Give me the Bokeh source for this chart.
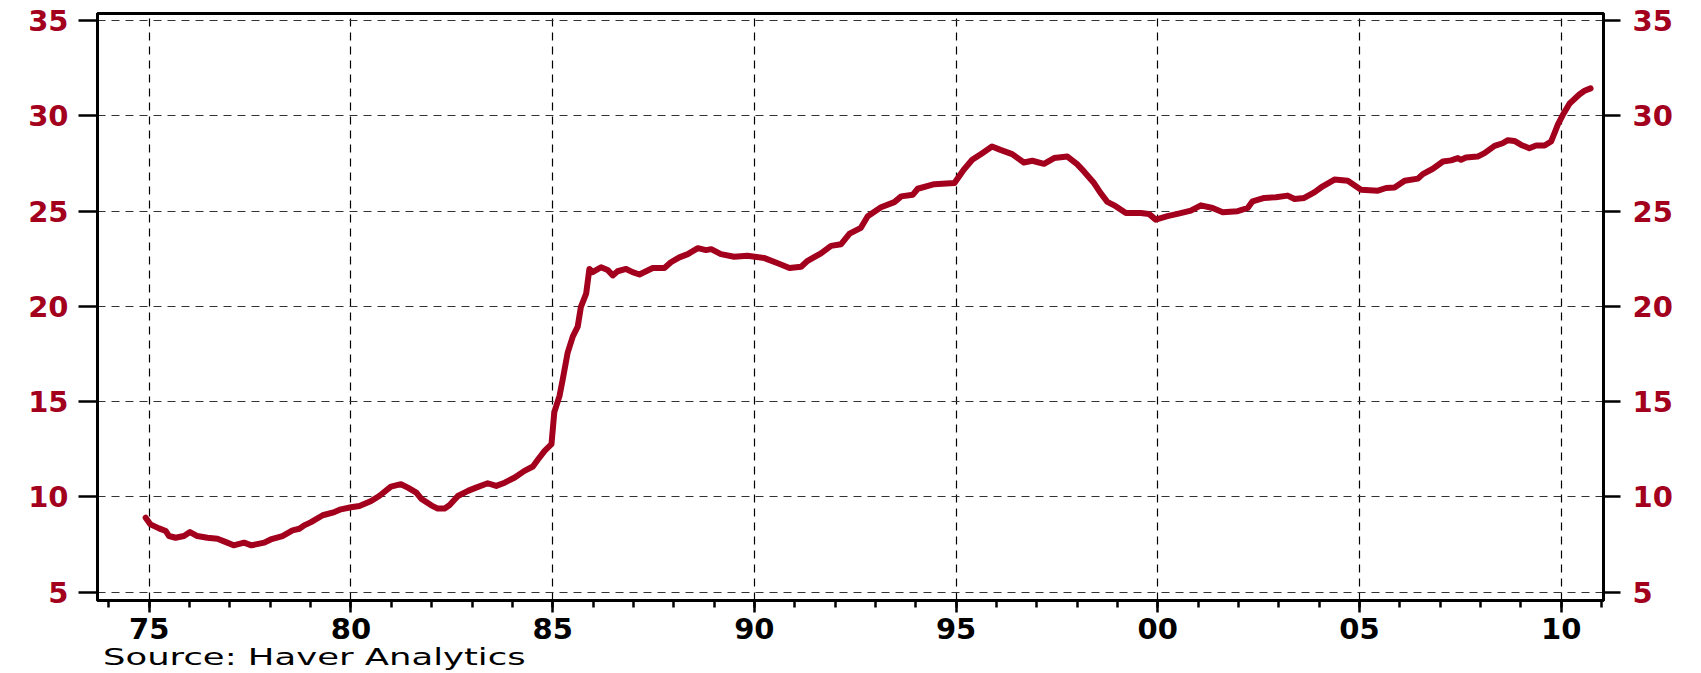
from bokeh.plotting import figure
from bokeh.models import (LinearAxis, SingleIntervalTicker, FixedTicker, Range1d, Div)
from bokeh.layouts import column
from bokeh.embed import file_html
from bokeh.resources import INLINE

# ---- data (decimal year, value) ----
year = [1974.91, 1975.03, 1975.24, 1975.41, 1975.49, 1975.65, 1975.86, 1976.01, 1976.19, 1976.44,
        1976.69, 1976.90, 1977.09, 1977.35, 1977.53, 1977.85, 1978.01, 1978.30, 1978.55, 1978.72,
        1978.84, 1979.01, 1979.30, 1979.59, 1979.75, 1980.00, 1980.21, 1980.50, 1980.70, 1980.99,
        1981.24, 1981.41, 1981.62, 1981.74, 1981.99, 1982.15, 1982.32, 1982.44, 1982.65, 1982.90,
        1983.10, 1983.39, 1983.60, 1983.81, 1984.06, 1984.30, 1984.51, 1984.64, 1984.80, 1984.97,
        1985.04, 1985.17, 1985.25, 1985.37, 1985.50, 1985.62, 1985.70, 1985.83, 1985.91, 1985.99,
        1986.20, 1986.36, 1986.49, 1986.61, 1986.82, 1986.98, 1987.15, 1987.48, 1987.77, 1987.93,
        1988.14, 1988.35, 1988.60, 1988.80, 1988.93, 1989.17, 1989.50, 1989.83, 1990.25, 1990.58,
        1990.87, 1991.16, 1991.32, 1991.65, 1991.90, 1992.15, 1992.36, 1992.64, 1992.81, 1993.14,
        1993.47, 1993.64, 1993.93, 1994.05, 1994.46, 1994.96, 1995.19, 1995.40, 1995.65, 1995.89,
        1996.10, 1996.39, 1996.68, 1996.89, 1997.18, 1997.43, 1997.76, 1998.00, 1998.17, 1998.42,
        1998.58, 1998.75, 1998.92, 1999.21, 1999.58, 1999.78, 1999.95, 2000.24, 2000.49, 2000.82,
        2001.07, 2001.36, 2001.61, 2001.98, 2002.23, 2002.35, 2002.64, 2002.93, 2003.22, 2003.39,
        2003.63, 2003.88, 2004.09, 2004.38, 2004.71, 2005.04, 2005.46, 2005.66, 2005.87, 2006.12,
        2006.45, 2006.57, 2006.82, 2007.07, 2007.27, 2007.44, 2007.52, 2007.64, 2007.93, 2008.10,
        2008.35, 2008.55, 2008.68, 2008.84, 2009.01, 2009.21, 2009.38, 2009.59, 2009.75, 2009.85,
        2009.92, 2010.04, 2010.21, 2010.33, 2010.45, 2010.58, 2010.73]
value = [8.91, 8.56, 8.35, 8.21, 7.95, 7.86, 7.95, 8.16, 7.95, 7.86,
         7.81, 7.63, 7.46, 7.60, 7.46, 7.60, 7.77, 7.95, 8.25, 8.33,
         8.51, 8.68, 9.04, 9.21, 9.35, 9.46, 9.53, 9.79, 10.05, 10.54,
         10.67, 10.49, 10.23, 9.91, 9.56, 9.39, 9.39, 9.56, 10.05, 10.32,
         10.49, 10.72, 10.58, 10.75, 11.02, 11.37, 11.60, 11.98, 12.42, 12.77,
         14.45, 15.31, 16.18, 17.56, 18.43, 18.94, 19.98, 20.67, 21.97, 21.80,
         22.06, 21.92, 21.63, 21.85, 21.97, 21.80, 21.68, 22.02, 22.02, 22.32,
         22.58, 22.75, 23.06, 22.96, 23.01, 22.75, 22.61, 22.66, 22.54, 22.27,
         22.02, 22.09, 22.40, 22.79, 23.18, 23.27, 23.82, 24.13, 24.74, 25.21,
         25.48, 25.78, 25.87, 26.18, 26.42, 26.48, 27.18, 27.70, 28.05, 28.40,
         28.22, 28.00, 27.56, 27.65, 27.49, 27.79, 27.87, 27.47, 27.09, 26.48,
         25.96, 25.49, 25.31, 24.91, 24.91, 24.86, 24.56, 24.74, 24.86, 25.03,
         25.31, 25.17, 24.95, 25.00, 25.17, 25.52, 25.70, 25.73, 25.82, 25.64,
         25.70, 25.99, 26.31, 26.66, 26.60, 26.13, 26.08, 26.22, 26.25, 26.60,
         26.71, 26.95, 27.23, 27.61, 27.67, 27.79, 27.70, 27.82, 27.87, 28.05,
         28.43, 28.57, 28.73, 28.69, 28.48, 28.31, 28.45, 28.45, 28.66, 29.18,
         29.56, 30.05, 30.66, 30.89, 31.13, 31.32, 31.45]

y_ticks = [5, 10, 15, 20, 25, 30, 35]
x_tick_years = [1975, 1980, 1985, 1990, 1995, 2000, 2005, 2010]
x_tick_labels = ["75", "80", "85", "90", "95", "00", "05", "10"]
source_text = "Source: Haver Analytics"

RED = "#A3001E"
FONT = "DejaVu Sans"

p = figure(width=1701, height=652, output_backend="svg", toolbar_location=None,
           x_range=Range1d(1973.716, 2011.05), y_range=Range1d(4.565, 35.38),
           min_border_left=97, min_border_right=98, min_border_top=13, min_border_bottom=52)

p.line(year, value, line_color=RED, line_width=6, line_join="round", line_cap="round")

p.outline_line_color = "black"
p.outline_line_width = 3
p.outline_line_alpha = 1

# bottom axis
xa = p.xaxis[0]
xa.ticker = SingleIntervalTicker(interval=5, num_minor_ticks=5)
xa.major_label_overrides = {y: l for y, l in zip(x_tick_years, x_tick_labels)}
xa.major_label_text_font = FONT
xa.major_label_text_font_size = "29px"
xa.major_label_text_font_style = "bold"
xa.major_label_text_color = "black"
xa.major_label_standoff = 5
xa.axis_line_color = "black"
xa.axis_line_width = 3
xa.major_tick_out = 12
xa.major_tick_in = 0
xa.minor_tick_out = 7
xa.minor_tick_in = 0
xa.major_tick_line_width = 2.5
xa.minor_tick_line_width = 2.5
xa.major_tick_line_color = "black"
xa.minor_tick_line_color = "black"

# left axis
ya = p.yaxis[0]
ya.ticker = FixedTicker(ticks=y_ticks)
ya.major_label_text_font = FONT
ya.major_label_text_font_size = "29px"
ya.major_label_text_font_style = "bold"
ya.major_label_text_color = RED
ya.major_label_standoff = 10
ya.axis_line_color = "black"
ya.axis_line_width = 3
ya.major_tick_out = 19
ya.major_tick_in = 0
ya.minor_tick_line_color = None
ya.major_tick_line_width = 2.5
ya.major_tick_line_color = "black"

# right axis
ra = LinearAxis(ticker=FixedTicker(ticks=y_ticks))
ra.major_label_text_font = FONT
ra.major_label_text_font_size = "29px"
ra.major_label_text_font_style = "bold"
ra.major_label_text_color = RED
ra.major_label_standoff = 12
ra.axis_line_color = "black"
ra.axis_line_width = 3
ra.major_tick_out = 17
ra.major_tick_in = 0
ra.minor_tick_line_color = None
ra.major_tick_line_width = 2.5
ra.major_tick_line_color = "black"
p.add_layout(ra, "right")

# grids
p.xgrid.ticker = FixedTicker(ticks=x_tick_years)
p.xgrid.grid_line_color = "black"
p.xgrid.grid_line_width = 1.2
p.xgrid.grid_line_dash = "8 6"
p.ygrid.ticker = FixedTicker(ticks=y_ticks)
p.ygrid.grid_line_color = "#333333"
p.ygrid.grid_line_width = 1.2
p.ygrid.grid_line_dash = "8 6"

p.background_fill_color = "white"
p.border_fill_color = "white"

src = Div(
    text=('<span style="display:inline-block; position:relative; top:-6px; margin-left:103px; '
          'font-family:\'DejaVu Sans\'; font-size:23px; line-height:23px; color:black; '
          'white-space:nowrap; transform:scaleX(1.54); transform-origin:0 0;">'
          + source_text + '</span>'),
    width=1701, height=21, margin=(0, 0, 0, 0))

layout = column(p, src, spacing=0)

open("out.html", "w").write(file_html(layout, INLINE))
